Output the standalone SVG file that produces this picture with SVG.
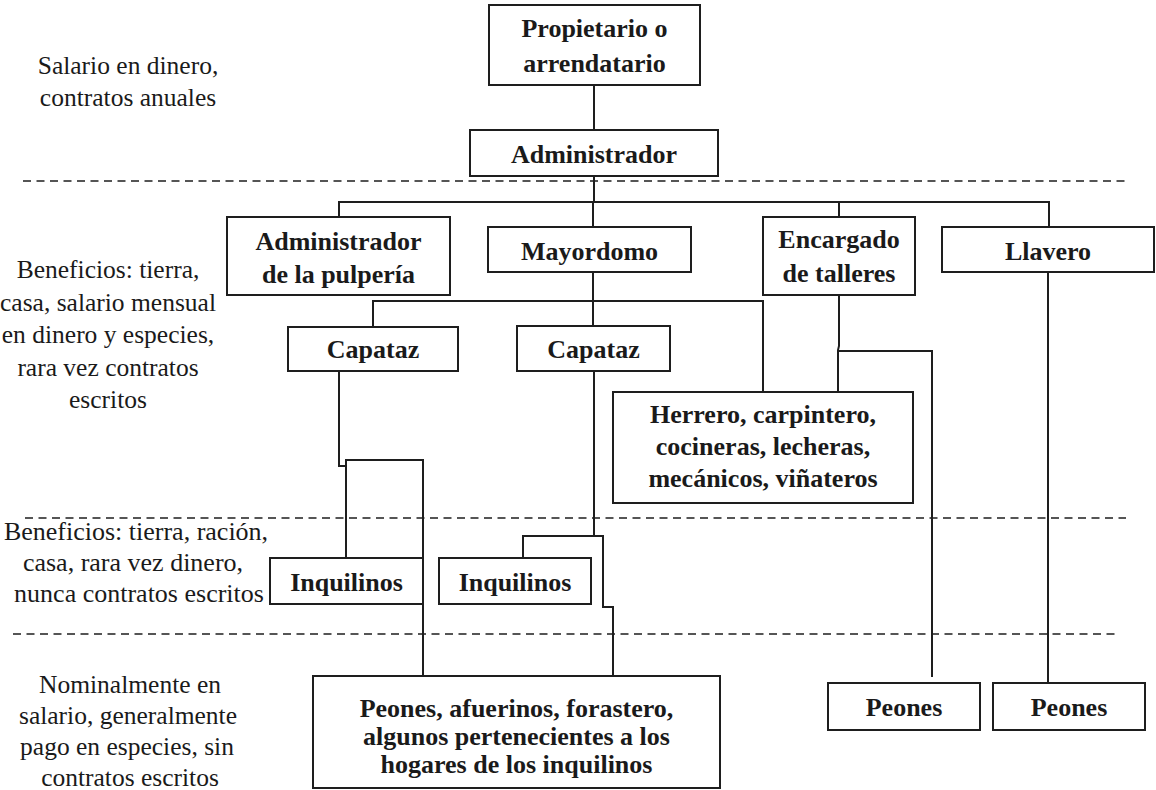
<svg xmlns="http://www.w3.org/2000/svg" width="1156" height="790" viewBox="0 0 1156 790">
<style>
.box{fill:#fff;stroke:#1e1e1e;stroke-width:2}
.t{font-family:"Liberation Serif","Times New Roman",serif;font-weight:bold;font-size:26px;fill:#1a1a1a;text-anchor:middle}
.n{font-family:"Liberation Serif","Times New Roman",serif;font-size:25.5px;fill:#1a1a1a;text-anchor:middle}
.c{fill:none;stroke:#1e1e1e;stroke-width:2}
.d{fill:none;stroke:#1e1e1e;stroke-width:1.6;stroke-dasharray:8 5.5}
</style>
<rect width="1156" height="790" fill="#fff"/>
<g id="separators">
<line class="d" x1="23" y1="181" x2="1126" y2="181"/>
<line class="d" x1="25" y1="518" x2="1126" y2="518"/>
<line class="d" x1="13" y1="634" x2="1115" y2="634"/>
</g>
<g id="notes">
<text class="n" x="128" y="74">Salario en dinero,</text>
<text class="n" x="128" y="106">contratos anuales</text>
<text class="n" x="108" y="278">Beneficios: tierra,</text>
<text class="n" x="108" y="311">casa, salario mensual</text>
<text class="n" x="108" y="343">en dinero y especies,</text>
<text class="n" x="108" y="376">rara vez contratos</text>
<text class="n" x="108" y="408">escritos</text>
<text class="n" x="136" y="540" style="font-size:26px">Beneficios: tierra, ración,</text>
<text class="n" x="133" y="571" style="font-size:26px">casa, rara vez dinero,</text>
<text class="n" x="139" y="602" style="font-size:26px">nunca contratos escritos</text>
<text class="n" x="130" y="693">Nominalmente en</text>
<text class="n" x="128" y="724">salario, generalmente</text>
<text class="n" x="127" y="755">pago en especies, sin</text>
<text class="n" x="130" y="786">contratos escritos</text>
</g>
<g id="connectors">
<path class="c" d="M594 85V130"/>
<path class="c" d="M594 176V202"/>
<path class="c" d="M339 217V202H1049V227"/>
<path class="c" d="M593 202V227"/>
<path class="c" d="M839 202V217"/>
<path class="c" d="M593 272V326"/>
<path class="c" d="M373 327V301H763V392"/>
<path class="c" d="M839 295V346L838 350V392"/>
<path class="c" d="M838 351H932V677"/>
<path class="c" d="M1048 272V683"/>
<path class="c" d="M339 371V466H346"/>
<path class="c" d="M346 558V460H423V676"/>
<path class="c" d="M594 371V536"/>
<path class="c" d="M523 558V536H603V607H613V676"/>
</g>
<g id="n-propietario"><rect class="box" x="489" y="5" width="211" height="80"/><text class="t" x="594.5" y="37">Propietario o</text><text class="t" x="594.5" y="72">arrendatario</text></g>
<g id="n-administrador"><rect class="box" x="470" y="130" width="248" height="46"/><text class="t" x="594" y="163">Administrador</text></g>
<g id="n-pulperia"><rect class="box" x="227" y="217" width="223" height="78"/><text class="t" x="338.5" y="250">Administrador</text><text class="t" x="338.5" y="283">de la pulpería</text></g>
<g id="n-mayordomo"><rect class="box" x="488" y="227" width="203" height="45"/><text class="t" x="589.5" y="260">Mayordomo</text></g>
<g id="n-encargado"><rect class="box" x="763" y="217" width="152" height="78"/><text class="t" x="839" y="248">Encargado</text><text class="t" x="839" y="282">de talleres</text></g>
<g id="n-llavero"><rect class="box" x="942" y="227" width="212" height="45"/><text class="t" x="1048" y="260">Llavero</text></g>
<g id="n-capataz1"><rect class="box" x="288" y="327" width="170" height="44"/><text class="t" x="373" y="358">Capataz</text></g>
<g id="n-capataz2"><rect class="box" x="517" y="326" width="153" height="45"/><text class="t" x="593.5" y="358">Capataz</text></g>
<g id="n-herrero"><rect class="box" x="613" y="392" width="300" height="111"/><text class="t" x="763" y="423">Herrero, carpintero,</text><text class="t" x="763" y="455">cocineras, lecheras,</text><text class="t" x="763" y="487">mecánicos, viñateros</text></g>
<g id="n-inquilinos1"><rect class="box" x="270" y="558" width="153" height="46"/><text class="t" x="346.5" y="591">Inquilinos</text></g>
<g id="n-inquilinos2"><rect class="box" x="439" y="558" width="152" height="46"/><text class="t" x="515" y="591">Inquilinos</text></g>
<g id="n-peones-main"><rect class="box" x="313" y="676" width="407" height="112"/><text class="t" x="516.5" y="717">Peones, afuerinos, forastero,</text><text class="t" x="516.5" y="745">algunos pertenecientes a los</text><text class="t" x="516.5" y="773">hogares de los inquilinos</text></g>
<g id="n-peones1"><rect class="box" x="828" y="683" width="152" height="47"/><text class="t" x="904" y="716">Peones</text></g>
<g id="n-peones2"><rect class="box" x="993" y="683" width="152" height="47"/><text class="t" x="1069" y="716">Peones</text></g>
</svg>
